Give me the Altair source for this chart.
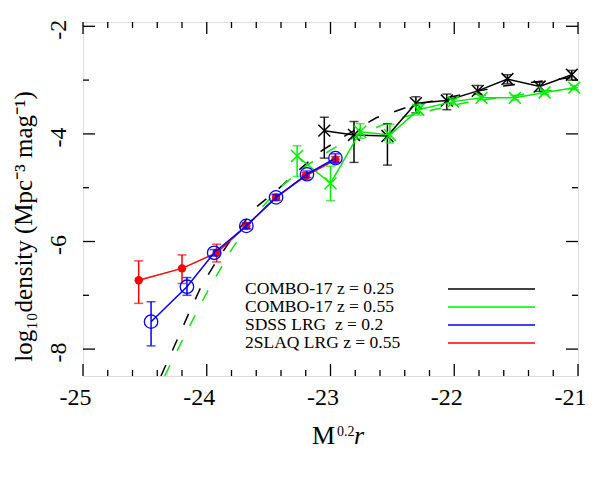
import altair as alt
import pandas as pd

# ---------------- data ----------------
# COMBO-17 z = 0.25 (black, X markers)
c25_x  = [-23.05, -22.81, -22.54, -22.31, -22.06, -21.81, -21.57, -21.31, -21.05]
c25_y  = [-3.94, -4.02, -4.04, -3.43, -3.38, -3.20, -2.98, -3.12, -2.90]
c25_hi = [-3.69, -3.77, -3.81, -3.31, -3.26, -3.10, -2.90, -3.04, -2.82]
c25_lo = [-4.45, -4.53, -4.58, -3.61, -3.55, -3.26, -3.07, -3.21, -3.00]

# COMBO-17 z = 0.55 (green, X markers)
c55_x  = [-23.27, -23.00, -22.76, -22.52, -22.29, -22.01, -21.78, -21.51, -21.27, -21.03]
c55_y  = [-4.41, -4.92, -3.96, -4.02, -3.55, -3.40, -3.33, -3.33, -3.23, -3.14]
c55_hi = [-4.22, -4.60, -3.81, -3.82, -3.45, -3.35, -3.29, -3.29, -3.19, -3.10]
c55_lo = [-4.79, -5.24, -4.08, -4.17, -3.65, -3.45, -3.37, -3.37, -3.27, -3.18]

# SDSS LRG z = 0.2 (blue, open circles)
sdss_x  = [-24.45, -24.16, -23.94, -23.68, -23.44, -23.19, -22.96]
sdss_y  = [-7.49, -6.84, -6.21, -5.71, -5.18, -4.75, -4.45]
sdss_hi = [-7.12, -6.67, -6.15, -5.66, -5.13, -4.69, -4.37]
sdss_lo = [-7.94, -7.00, -6.27, -5.76, -5.23, -4.81, -4.53]

# 2SLAQ LRG z = 0.55 (red, filled circles)
slaq_x  = [-24.55, -24.20, -23.92, -23.68, -23.44, -23.20, -22.96]
slaq_y  = [-6.72, -6.50, -6.21, -5.71, -5.18, -4.78, -4.48]
slaq_hi = [-6.36, -6.25, -6.05, -5.65, -5.12, -4.72, -4.42]
slaq_lo = [-7.15, -6.78, -6.38, -5.77, -5.24, -4.84, -4.54]

# dashed fit curves
fit25_x = [-24.37, -24.24, -24.14, -24.04, -23.92, -23.80, -23.61, -23.43, -23.24,
           -23.07, -22.87, -22.63, -22.40, -22.20, -22.00, -21.80, -21.60, -21.40,
           -21.20, -21.00]
fit25_y = [-8.50, -7.83, -7.31, -6.81, -6.36, -5.95, -5.38, -5.04, -4.64,
           -4.31, -4.02, -3.70, -3.52, -3.40, -3.30, -3.20, -3.11, -3.05,
           -2.99, -2.94]
fit55_x = [-24.34, -24.20, -24.00, -23.80, -23.60, -23.40, -23.20, -23.00, -22.80,
           -22.60, -22.40, -22.20, -22.00, -21.80, -21.60, -21.40, -21.20, -21.00]
fit55_y = [-8.50, -7.85, -6.95, -6.15, -5.48, -4.98, -4.60, -4.30, -4.05,
           -3.85, -3.68, -3.57, -3.46, -3.38, -3.31, -3.25, -3.19, -3.14]

x_major = [-25, -24, -23, -22, -21]
x_minor = [-24.8, -24.6, -24.4, -24.2, -23.8, -23.6, -23.4, -23.2, -22.8, -22.6,
           -22.4, -22.2, -21.8, -21.6, -21.4, -21.2]
y_major = [-2, -4, -6, -8]
y_minor = [-3, -5, -7]

legend_labels = ["COMBO-17 z = 0.25", "COMBO-17 z = 0.55", "SDSS LRG\u00a0 z = 0.2", "2SLAQ LRG z = 0.55"]
legend_colors = ["#000000", "#00ee00", "#0000ff", "#ff0000"]

# ---------------- chart ----------------
W, H = 495, 354
FONT = "Liberation Serif"
BLACK, GREEN, BLUE, RED = legend_colors

xs = alt.Scale(domain=[-25, -21], nice=False, zero=False)
ys = alt.Scale(domain=[-8.5, -1.92], nice=False, zero=False)

xaxis = alt.Axis(values=x_major, ticks=False, tickSize=0, domain=False, grid=False,
                 labelFont=FONT, labelFontSize=24, labelColor="black",
                 labelFlush=False, labelOverlap=False,
                 labelPadding=9, labelOffset=-8, labelExpr="'' + datum.value",
                 title=None)
yaxis = alt.Axis(values=y_major, ticks=False, tickSize=0, domain=False, grid=False,
                 labelFont=FONT, labelFontSize=24, labelColor="black",
                 labelFlush=False, labelOverlap=False,
                 labelAngle=270, labelAlign="center", labelBaseline="bottom",
                 labelPadding=13, labelOffset=3, labelExpr="'' + datum.value",
                 title="log₁₀density (Mpc⁻³ mag⁻¹)", titleFont=FONT,
                 titleFontSize=25, titleFontWeight="normal", titleColor="black",
                 titleAngle=270, titleX=-60, titleY=204,
                 titleAlign="center", titleBaseline="middle")


def X(field="x"):
    return alt.X(f"{field}:Q", scale=xs, axis=xaxis)


def Y(field="y"):
    return alt.Y(f"{field}:Q", scale=ys, axis=yaxis)


def frame(xv, yv, hi, lo):
    return pd.DataFrame({"x": xv, "y": yv, "hi": hi, "lo": lo})


XSHAPE = "M-1,-1L1,1M1,-1L-1,1"


def series(df, color, marker):
    line = alt.Chart(df).mark_line(color=color, strokeWidth=1.5).encode(x=X(), y=Y())
    bar = alt.Chart(df).mark_rule(color=color, strokeWidth=1.5).encode(
        x=X(), y=Y("lo"), y2=alt.Y2("hi"))
    cap1 = alt.Chart(df).mark_tick(color=color, orient="horizontal", size=9,
                                   thickness=1.5).encode(x=X(), y=Y("lo"))
    cap2 = alt.Chart(df).mark_tick(color=color, orient="horizontal", size=9,
                                   thickness=1.5).encode(x=X(), y=Y("hi"))
    if marker == "x":
        pts = alt.Chart(df).mark_point(shape=XSHAPE, filled=False, size=140,
                                       color=color, strokeWidth=1.5, opacity=1)
    elif marker == "open":
        pts = alt.Chart(df).mark_point(shape="circle", filled=False, size=180,
                                       color=color, strokeWidth=1.3, opacity=1)
    else:
        pts = alt.Chart(df).mark_point(shape="circle", filled=True, size=70,
                                       color=color, opacity=1)
    pts = pts.encode(x=X(), y=Y())
    return [line, bar, cap1, cap2, pts]


layers = []

# dashed fits
for fx, fy, col in [(fit25_x, fit25_y, BLACK), (fit55_x, fit55_y, GREEN)]:
    layers.append(alt.Chart(pd.DataFrame({"x": fx, "y": fy})).mark_line(
        color=col, strokeWidth=1.5, strokeDash=[12, 16], clip=True).encode(x=X(), y=Y()))

layers += series(frame(c25_x, c25_y, c25_hi, c25_lo), BLACK, "x")
layers += series(frame(c55_x, c55_y, c55_hi, c55_lo), GREEN, "x")
layers += series(frame(slaq_x, slaq_y, slaq_hi, slaq_lo), RED, "filled")
layers += series(frame(sdss_x, sdss_y, sdss_hi, sdss_lo), BLUE, "open")

# inward ticks on all four sides
xmaj = pd.DataFrame({"x": x_major})
xmin = pd.DataFrame({"x": x_minor})
ymaj = pd.DataFrame({"y": y_major})
ymin = pd.DataFrame({"y": y_minor})
for df, L in [(xmaj, 12), (xmin, 6)]:
    layers.append(alt.Chart(df).mark_rule(color="black", strokeWidth=1.3).encode(
        x=X(), y=alt.value(H), y2=alt.value(H - L)))
    layers.append(alt.Chart(df).mark_rule(color="black", strokeWidth=1.3).encode(
        x=X(), y=alt.value(0), y2=alt.value(L)))
for df, L in [(ymaj, 12), (ymin, 6)]:
    layers.append(alt.Chart(df).mark_rule(color="black", strokeWidth=1.3).encode(
        y=Y(), x=alt.value(0), x2=alt.value(L)))
    layers.append(alt.Chart(df).mark_rule(color="black", strokeWidth=1.3).encode(
        y=Y(), x=alt.value(W), x2=alt.value(W - L)))

# legend (text left, line sample right)
leg_y = [267, 285, 303, 321]
for lab, col, yy in zip(legend_labels, legend_colors, leg_y):
    layers.append(alt.Chart(pd.DataFrame({"t": [lab]})).mark_text(
        font=FONT, fontSize=17.5, align="left", baseline="middle", color="black").encode(
        text="t:N", x=alt.value(162), y=alt.value(yy)))
    layers.append(alt.Chart(pd.DataFrame({"t": [lab]})).mark_rule(
        color=col, strokeWidth=1.5).encode(
        x=alt.value(365), x2=alt.value(452), y=alt.value(yy)))

# x-axis title  M^{0.2} r
xt = [("M", 229, 422, 26, "normal"), ("0.2", 254, 414, 14, "normal"), ("r", 271, 422, 26, "italic")]
for txt, px, py, fs, st in xt:
    layers.append(alt.Chart(pd.DataFrame({"t": [txt]})).mark_text(
        font=FONT, fontSize=fs, fontStyle=st, align="left", baseline="alphabetic",
        color="black").encode(text="t:N", x=alt.value(px), y=alt.value(py)))

chart = alt.layer(*layers).properties(
    width=W, height=H,
    autosize=alt.AutoSizeParams(type="none"),
    padding={"left": 75, "top": 14, "right": 25, "bottom": 100},
).configure_view(stroke="black", strokeWidth=1.5).configure(background="white")

chart.save("out.html", embed_options={"renderer": "svg", "actions": False})
